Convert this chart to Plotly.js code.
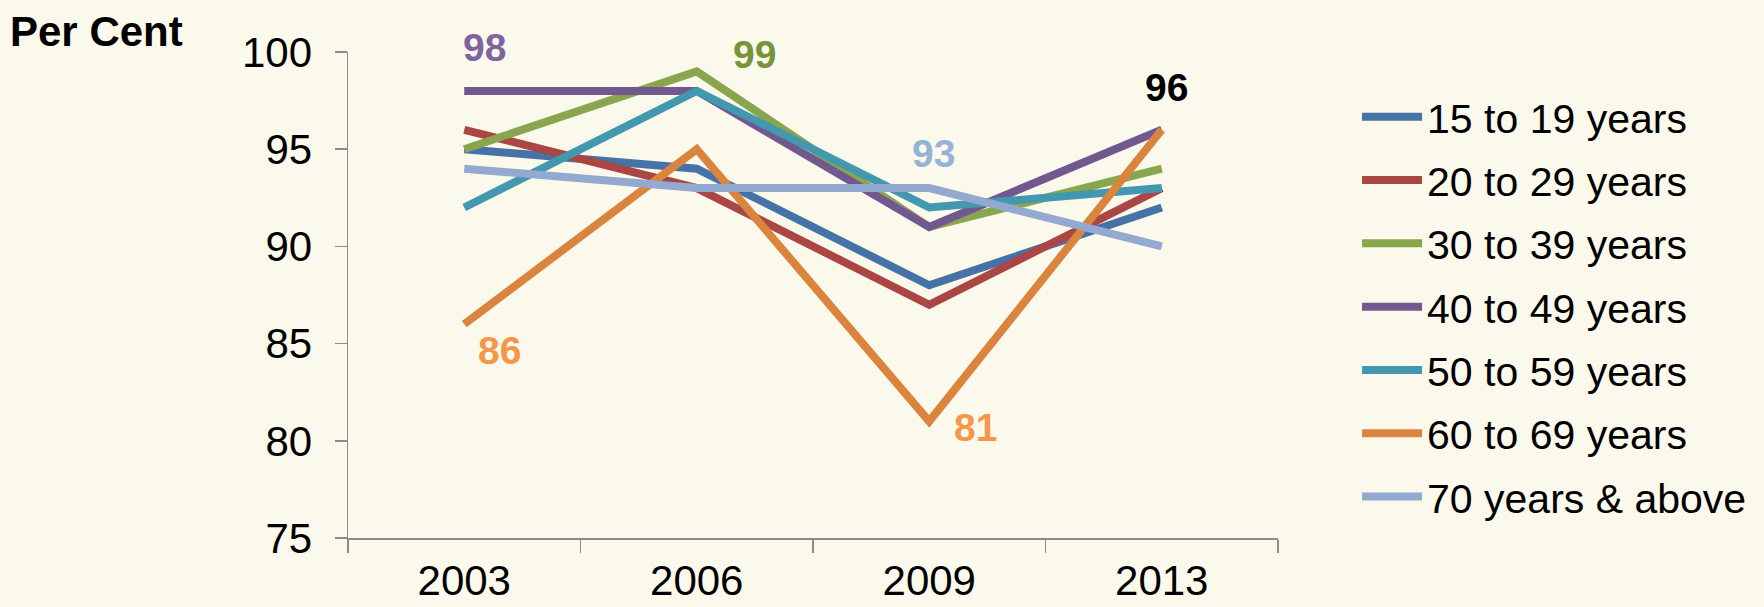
<!DOCTYPE html>
<html>
<head>
<meta charset="utf-8">
<script src="https://cdn.plot.ly/plotly-3.0.1.min.js"></script>
<style>
  html, body { margin: 0; padding: 0; background: #FAF9EC; }
  #chart { width: 1764px; height: 607px; }
</style>
</head>
<body>
<div id="chart"></div>
<script>
const years = ["2003", "2006", "2009", "2013"];
const seriesNames = ["15 to 19 years", "20 to 29 years", "30 to 39 years", "40 to 49 years", "50 to 59 years", "60 to 69 years", "70 years & above"];
const age15to19 = [95, 94, 88, 92];
const age20to29 = [96, 93, 87, 93];
const age30to39 = [95, 99, 91, 94];
const age40to49 = [98, 98, 91, 96];
const age50to59 = [92, 98, 92, 93];
const age60to69 = [86, 95, 81, 96];
const age70plus = [94, 93, 93, 90];
const seriesValues = [age15to19, age20to29, age30to39, age40to49, age50to59, age60to69, age70plus];
const seriesColors = ["#4572A7", "#AA4643", "#89A54E", "#71588F", "#4198AF", "#DB843D", "#93A9CF"];

// highlighted value labels: [series index, year index, label colour, xshift, yshift]
const valueLabels = [
  [3, 0, "#8064A2", 20, 43],
  [2, 1, "#77933C", 58, 17],
  [6, 2, "#95B3D7", 4, 35],
  [5, 2, "#F79646", 46, -6],
  [5, 0, "#F79646", 35, -26],
  [5, 3, "#000000", 5, 42]
];

const FONT = "Arial, 'Liberation Sans', sans-serif";

const traces = seriesNames.map((name, i) => ({
  type: "scatter",
  mode: "lines",
  name: name,
  x: years,
  y: seriesValues[i],
  line: { color: seriesColors[i], width: 8 },
  legendgroup: "g" + i
}));

const annotations = valueLabels.map(([s, yi, col, dx, dy]) => ({
  x: yi,
  y: seriesValues[s][yi],
  xref: "x", yref: "y",
  text: "<b>" + seriesValues[s][yi] + "</b>",
  showarrow: false,
  xshift: dx, yshift: dy,
  font: { family: FONT, size: 39, color: col }
}));

annotations.push({
  xref: "paper", yref: "paper",
  x: -0.366, y: 1.043,
  xanchor: "left", yanchor: "middle",
  text: "<b>Per Cent</b>",
  showarrow: false,
  font: { family: FONT, size: 42, color: "#000000" }
});

const layout = {
  width: 1764, height: 607,
  paper_bgcolor: "#FAF9EC",
  plot_bgcolor: "rgba(0,0,0,0)",
  margin: { l: 348, r: 481, t: 52, b: 69, pad: 0 },
  font: { family: FONT, size: 42, color: "#000000" },
  showlegend: true,
  legend: {
    x: 1.085, xanchor: "left",
    y: 0.935, yanchor: "top",
    font: { family: FONT, size: 41, color: "#000000" },
    bgcolor: "rgba(0,0,0,0)",
    itemwidth: 60,
    tracegroupgap: 7
  },
  xaxis: {
    type: "category",
    range: [-0.5, 3.5],
    autorange: false,
    tickangle: 0,
    showline: true, linecolor: "#8C8C8C", linewidth: 1.5,
    ticks: "outside", tickson: "boundaries", ticklen: 13, tickcolor: "#8C8C8C", tickwidth: 1.5,
    showgrid: false, zeroline: false,
    ticklabelstandoff: 5,
    tickfont: { family: FONT, size: 42, color: "#000000" }
  },
  yaxis: {
    range: [75, 100], dtick: 5, tick0: 75,
    autorange: false,
    showline: true, linecolor: "#8C8C8C", linewidth: 1.5,
    ticks: "outside", ticklen: 12, tickcolor: "#8C8C8C", tickwidth: 1.5,
    showgrid: false, zeroline: false,
    ticklabelstandoff: 14,
    tickfont: { family: FONT, size: 42, color: "#000000" }
  },
  annotations: annotations
};

Plotly.newPlot("chart", traces, layout, { displayModeBar: false, staticPlot: true });
</script>
</body>
</html>
